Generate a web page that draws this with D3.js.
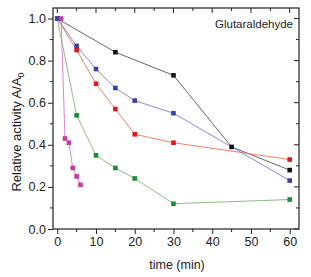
<!DOCTYPE html>
<html><head><meta charset="utf-8">
<script src="https://cdn.jsdelivr.net/npm/d3@7"></script>
<style>body{margin:0;background:#fff}svg{display:block;font-family:"Liberation Sans",Arial,sans-serif}</style>
</head><body>
<script>
const blackX = [0, 15, 30, 45, 60];
const blackY = [1.0, 0.84, 0.73, 0.39, 0.28];
const blueX = [0, 5, 10, 15, 20, 30, 60];
const blueY = [1.0, 0.87, 0.76, 0.67, 0.61, 0.55, 0.23];
const redX = [0, 5, 10, 15, 20, 30, 60];
const redY = [1.0, 0.85, 0.69, 0.57, 0.45, 0.41, 0.33];
const greenX = [0, 5, 10, 15, 20, 30, 60];
const greenY = [1.0, 0.54, 0.35, 0.29, 0.24, 0.12, 0.14];
const magentaX = [1, 2, 3, 4, 5, 6];
const magentaY = [1.0, 0.43, 0.41, 0.29, 0.25, 0.21];
const xTicks = [0, 10, 20, 30, 40, 50, 60];
const yTicks = [0.0, 0.2, 0.4, 0.6, 0.8, 1.0];

const series = [
  {x: blackX, y: blackY, line: "#555", mark: "#111"},
  {x: redX, y: redY, line: "#f0705a", mark: "#e8141c"},
  {x: greenX, y: greenY, line: "#7fb870", mark: "#1b8a3a"},
  {x: blueX, y: blueY, line: "#7a7fd0", mark: "#3b40a8"},
  {x: magentaX, y: magentaY, line: "#d878c0", mark: "#c8389e"}
];

const W = 311, H = 277;
const m = {l: 53, t: 8, r: 299, b: 229};
const x = d3.scaleLinear().domain([-1.1, 62.4]).range([m.l, m.r]);
const y = d3.scaleLinear().domain([0, 1.05]).range([m.b, m.t]);

const svg = d3.select("body").append("svg").attr("width", W).attr("height", H);

// frame
svg.append("rect").attr("x", m.l).attr("y", m.t).attr("width", m.r - m.l).attr("height", m.b - m.t)
  .attr("fill", "none").attr("stroke", "#222").attr("stroke-width", 1.2);

const xMinor = d3.range(5, 60, 10);
const yMinor = d3.range(0.1, 1.05, 0.2);

// bottom axis (outward ticks)
const gx = svg.append("g").attr("transform", `translate(0,${m.b})`)
  .call(d3.axisBottom(x).tickValues(xTicks).tickSize(5).tickPadding(3).tickFormat(d3.format("d")));
gx.select(".domain").remove();
gx.selectAll(".tick text").attr("font-size", 12.5).attr("fill", "#222").attr("font-family", "Liberation Sans, Arial, sans-serif");
gx.selectAll(".tick line").attr("stroke", "#222");
svg.append("g").selectAll("line").data(xMinor).join("line")
  .attr("x1", d => x(d)).attr("x2", d => x(d)).attr("y1", m.b).attr("y2", m.b + 3).attr("stroke", "#222");

// top axis (inward ticks)
svg.append("g").selectAll("line").data(xTicks).join("line")
  .attr("x1", d => x(d)).attr("x2", d => x(d)).attr("y1", m.t).attr("y2", m.t + 5).attr("stroke", "#222");
svg.append("g").selectAll("line").data(xMinor).join("line")
  .attr("x1", d => x(d)).attr("x2", d => x(d)).attr("y1", m.t).attr("y2", m.t + 3).attr("stroke", "#222");

// left axis (outward ticks)
const gy = svg.append("g").attr("transform", `translate(${m.l},0)`)
  .call(d3.axisLeft(y).tickValues(yTicks).tickSize(5).tickPadding(2).tickFormat(d3.format(".1f")));
gy.select(".domain").remove();
gy.selectAll(".tick text").attr("font-size", 12.5).attr("fill", "#222").attr("font-family", "Liberation Sans, Arial, sans-serif");
gy.selectAll(".tick line").attr("stroke", "#222");
svg.append("g").selectAll("line").data(yMinor).join("line")
  .attr("x1", m.l - 3).attr("x2", m.l).attr("y1", d => y(d)).attr("y2", d => y(d)).attr("stroke", "#222");

// right axis (inward ticks)
svg.append("g").selectAll("line").data(yTicks).join("line")
  .attr("x1", m.r - 5).attr("x2", m.r).attr("y1", d => y(d)).attr("y2", d => y(d)).attr("stroke", "#222");
svg.append("g").selectAll("line").data(yMinor).join("line")
  .attr("x1", m.r - 3).attr("x2", m.r).attr("y1", d => y(d)).attr("y2", d => y(d)).attr("stroke", "#222");

// lines
const line = d3.line().x(d => x(d[0])).y(d => y(d[1]));
series.forEach(s => {
  const pts = s.x.map((v, i) => [v, s.y[i]]);
  svg.append("path").datum(pts).attr("d", line).attr("fill", "none")
    .attr("stroke", s.line).attr("stroke-width", 0.9);
});
series.forEach(s => {
  const pts = s.x.map((v, i) => [v, s.y[i]]);
  svg.append("g").selectAll("rect").data(pts).join("rect")
    .attr("x", d => x(d[0]) - 2.3).attr("y", d => y(d[1]) - 2.3)
    .attr("width", 4.6).attr("height", 4.6).attr("fill", s.mark);
});

// title
svg.append("text").attr("x", 293).attr("y", 28).attr("text-anchor", "end")
  .attr("font-size", 11.5).attr("fill", "#222").text("Glutaraldehyde");

// x label
svg.append("text").attr("x", 177).attr("y", 269).attr("text-anchor", "middle")
  .attr("font-size", 12.5).attr("fill", "#222").text("time (min)");

// y label
const yl = svg.append("text").attr("transform", "translate(21,132) rotate(-90)")
  .attr("text-anchor", "middle").attr("font-size", 13).attr("fill", "#222");
yl.append("tspan").text("Relative activity A/A");
yl.append("tspan").attr("font-size", 9).attr("dy", 3).text("0");
</script>
</body></html>
